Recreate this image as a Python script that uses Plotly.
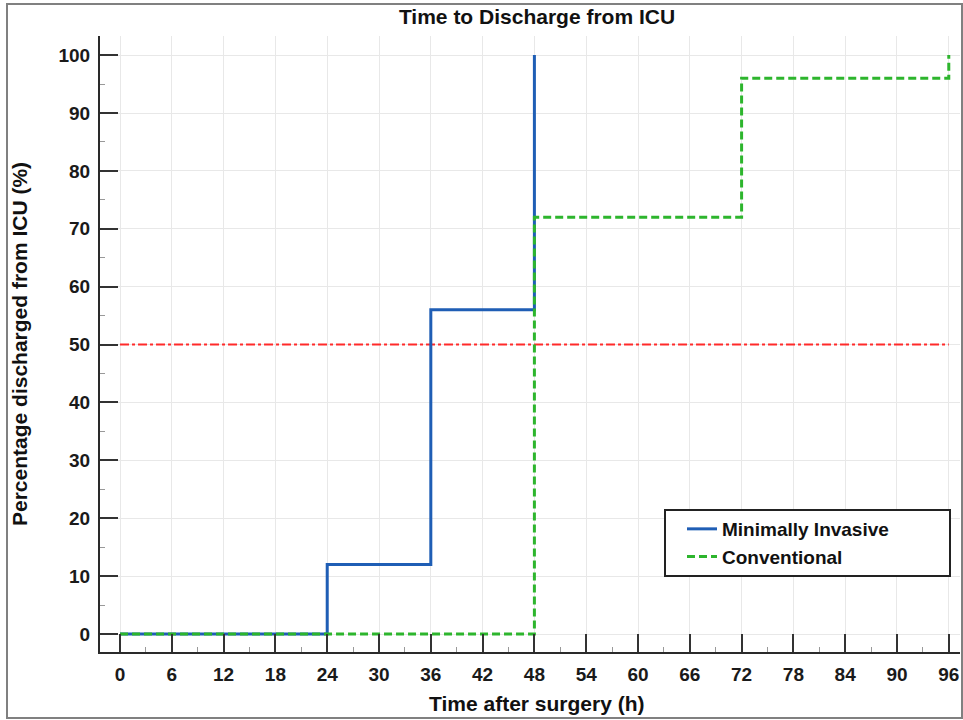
import plotly.graph_objects as go

# Data
mi_time = [0, 24, 36, 48]
mi_pct = [0, 12, 56, 100]
conv_time = [0, 48, 72, 96]
conv_pct = [0, 72, 96, 100]
ref_x = [0, 96]
ref_pct = [50, 50]
x_ticks = list(range(0, 97, 6))
y_ticks = list(range(0, 101, 10))

FONT = "Liberation Sans"
W, H = 963, 720
L, R, T, B = 100, 3, 36, 68
PW = W - L - R
PH = H - T - B

def px_x(p):
    return (p - L) / PW

def px_y(p):
    return (H - B - p) / PH

fig = go.Figure()
fig.add_trace(go.Scatter(x=ref_x, y=ref_pct, mode="lines", showlegend=False,
                         line=dict(color="#ff2a2a", width=2, dash="9px,3px,3px,3px")))
fig.add_trace(go.Scatter(x=mi_time, y=mi_pct, mode="lines", name="Minimally Invasive",
                         line=dict(color="#1f5eb5", width=3, shape="hv")))
fig.add_trace(go.Scatter(x=conv_time, y=conv_pct, mode="lines", name="Conventional",
                         line=dict(color="#2db52d", width=3, shape="hv", dash="8px,4px")))

axis_common = dict(
    showline=True, linecolor="#2a2a2a", linewidth=2,
    ticks="inside", ticklen=18, tickwidth=2, tickcolor="#333333",
    showgrid=True, gridcolor="#e8e8e8", gridwidth=1,
    zeroline=False, mirror=False,
    tickfont=dict(family=FONT, size=19, color="#1a1a1a", weight="bold"),
)

fig.update_xaxes(range=[-2.32, 97.3], tickmode="array", tickvals=x_ticks,
                 minor=dict(ticks="inside", ticklen=5, dtick=3, tick0=0, tickcolor="#999999", tickwidth=1, showgrid=False),
                 ticklabelstandoff=4, **axis_common)
fig.update_yaxes(range=[-3.1, 103.3], tickmode="array", tickvals=y_ticks,
                 minor=dict(ticks="inside", ticklen=5, dtick=5, tick0=0, tickcolor="#999999", tickwidth=1, showgrid=False),
                 ticklabelstandoff=4, **axis_common)

fig.update_layout(
    width=W, height=H,
    margin=dict(l=L, r=R, t=T, b=B),
    paper_bgcolor="white", plot_bgcolor="white",
    title=dict(text="Time to Discharge from ICU", x=537 / W, xanchor="center",
               y=1 - 17 / H, yanchor="middle",
               font=dict(family=FONT, size=21, color="#111111", weight="bold")),
    legend=dict(x=px_x(682), y=px_y(510), xanchor="left", yanchor="top",
                bgcolor="rgba(0,0,0,0)", borderwidth=0,
                font=dict(family=FONT, size=19, color="#111111", weight="bold"),
                tracegroupgap=0),
    shapes=[
        dict(type="rect", xref="paper", yref="paper",
             x0=px_x(665), x1=px_x(950), y0=px_y(576), y1=px_y(510),
             line=dict(color="#222222", width=2), fillcolor="white", layer="above"),
        dict(type="rect", xref="paper", yref="paper",
             x0=px_x(7), x1=px_x(962), y0=px_y(718), y1=px_y(4),
             line=dict(color="#808080", width=2), fillcolor="rgba(0,0,0,0)", layer="above"),
    ],
    annotations=[
        dict(text="Percentage discharged from ICU (%)", xref="paper", yref="paper",
             x=px_x(19), y=px_y(344), textangle=-90, showarrow=False,
             xanchor="center", yanchor="middle",
             font=dict(family=FONT, size=21, color="#111111", weight="bold")),
        dict(text="Time after surgery (h)", xref="paper", yref="paper",
             x=px_x(537), y=px_y(703), showarrow=False,
             xanchor="center", yanchor="middle",
             font=dict(family=FONT, size=21, color="#111111", weight="bold")),
    ],
)

fig.write_html("out.html")
